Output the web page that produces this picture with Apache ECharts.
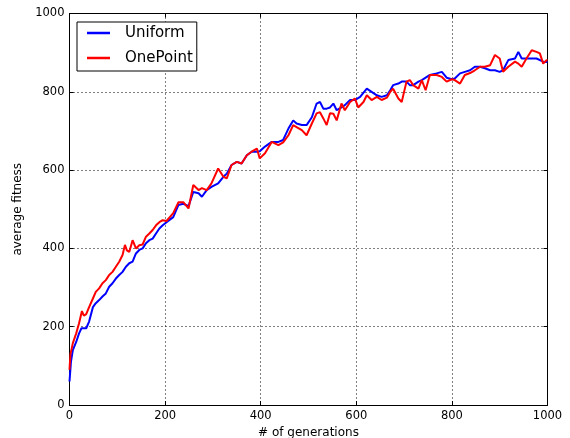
<!DOCTYPE html>
<html>
<head>
<meta charset="utf-8">
<script src="https://cdn.jsdelivr.net/npm/echarts@6/dist/echarts.min.js"></script>
<style>
  html, body { margin: 0; padding: 0; background: #fff; }
  #chart { width: 570px; height: 438px; }
</style>
</head>
<body>
<div id="chart"></div>
<script>
// Average fitness per generation for two crossover operators
const uniformGen = [0, 3, 7, 14, 20, 25, 35, 41, 49, 55, 62, 69, 76, 83, 90, 97, 104, 111, 118, 125, 132, 139, 146, 153, 160, 167, 174, 181, 188, 195, 203, 217, 228, 238, 249, 259, 270, 277, 287, 297, 311, 322, 329, 339, 350, 360, 371, 381, 392, 398, 409, 423, 437, 447, 458, 468, 475, 486, 496, 507, 517, 524, 531, 538, 545, 552, 559, 569, 576, 587, 597, 608, 622, 632, 643, 653, 664, 671, 677, 688, 695, 705, 712, 719, 730, 737, 754, 768, 779, 789, 800, 806, 817, 827, 838, 848, 859, 869, 880, 890, 900, 907, 918, 932, 939, 946, 956, 967, 977, 991, 1000];
const uniformFit = [60, 110, 140, 161, 183, 196, 196, 213, 250, 260, 268, 277, 285, 302, 311, 323, 332, 340, 353, 362, 366, 387, 396, 400, 413, 421, 425, 438, 451, 459, 467, 480, 511, 514, 508, 544, 541, 532, 549, 557, 566, 583, 591, 613, 621, 617, 638, 647, 647, 648, 660, 672, 672, 677, 706, 727, 719, 715, 715, 735, 770, 774, 757, 757, 760, 770, 753, 760, 766, 779, 779, 787, 808, 800, 791, 787, 791, 804, 817, 821, 826, 826, 817, 817, 826, 830, 843, 847, 851, 836, 832, 834, 847, 851, 855, 864, 864, 860, 855, 855, 851, 855, 881, 885, 902, 885, 885, 885, 885, 877, 876];

const onePointGen = [0, 2, 7, 14, 20, 26, 30, 35, 41, 49, 55, 62, 69, 76, 83, 90, 97, 104, 111, 116, 120, 125, 132, 139, 146, 153, 160, 167, 174, 181, 188, 195, 203, 217, 228, 238, 249, 259, 270, 277, 287, 297, 311, 322, 329, 339, 350, 360, 371, 381, 392, 398, 409, 423, 437, 447, 458, 468, 475, 486, 496, 507, 517, 524, 531, 538, 545, 552, 559, 569, 576, 587, 597, 604, 615, 622, 632, 643, 653, 664, 671, 677, 688, 695, 705, 712, 719, 730, 737, 745, 754, 768, 779, 789, 800, 806, 817, 827, 838, 848, 859, 869, 880, 890, 900, 907, 918, 932, 939, 946, 956, 967, 977, 984, 991, 998, 1000];
const onePointFit = [90, 130, 158, 183, 209, 240, 228, 232, 250, 272, 289, 298, 311, 319, 332, 340, 353, 366, 383, 409, 395, 391, 421, 400, 408, 410, 430, 438, 447, 459, 467, 472, 470, 490, 518, 518, 502, 562, 549, 554, 549, 566, 604, 583, 579, 613, 621, 617, 638, 647, 655, 630, 643, 672, 664, 671, 689, 715, 710, 702, 689, 719, 745, 748, 732, 715, 745, 744, 727, 770, 753, 774, 783, 760, 774, 791, 779, 787, 779, 785, 800, 808, 783, 774, 826, 830, 817, 808, 830, 804, 843, 843, 838, 826, 832, 830, 821, 843, 848, 855, 864, 864, 868, 894, 885, 851, 864, 877, 872, 864, 885, 906, 902, 898, 872, 881, 880];

const xTicks = [0, 200, 400, 600, 800, 1000];
const yTicks = [0, 200, 400, 600, 800, 1000];

const pairs = (xs, ys) => xs.map((x, i) => [x, ys[i]]);

const chart = echarts.init(document.getElementById('chart'), null, { renderer: 'canvas' });

const labelFont = { color: '#000', fontFamily: 'DejaVu Sans', fontSize: 11.5 };
const gridDots = { show: true, lineStyle: { color: '#000', width: 1, type: [1, 3] } };
const frameLine = { show: true, onZero: false, lineStyle: { color: '#000', width: 1 } };

chart.setOption({
  animation: false,
  backgroundColor: '#fff',
  grid: { left: 69.5, right: 22.5, top: 13.5, bottom: 33, containLabel: false, outerBoundsMode: 'none' },
  legend: {
    orient: 'vertical',
    left: 77,
    top: 22,
    data: ['Uniform', 'OnePoint'],
    icon: 'rect',
    itemWidth: 23,
    itemHeight: 2.5,
    itemGap: 9,
    padding: [3, 4, 5, 10],
    borderColor: '#000',
    borderWidth: 1,
    backgroundColor: '#fff',
    textStyle: { fontFamily: 'DejaVu Sans', fontSize: 15, color: '#000', lineHeight: 16, padding: [0, 0, 0, 10] }
  },
  xAxis: [
    {
      type: 'value', min: 0, max: 1000, interval: 200,
      name: '# of generations', nameLocation: 'middle', nameGap: 20,
      nameTextStyle: { fontFamily: 'DejaVu Sans', fontSize: 12, color: '#000' },
      axisLine: frameLine,
      axisTick: { show: true, inside: true, length: 4, lineStyle: { color: '#000' } },
      axisLabel: Object.assign({ margin: 5, formatter: v => xTicks.includes(v) ? String(v) : '' }, labelFont),
      splitLine: gridDots
    },
    {
      type: 'value', min: 0, max: 1000, interval: 200, position: 'top',
      axisLine: frameLine,
      axisTick: { show: true, inside: true, length: 4, lineStyle: { color: '#000' } },
      axisLabel: { show: false }, splitLine: { show: false }
    }
  ],
  yAxis: [
    {
      type: 'value', min: 0, max: 1000, interval: 200,
      name: 'average fitness', nameLocation: 'middle', nameGap: 38, nameRotate: 90,
      nameTextStyle: { fontFamily: 'DejaVu Sans', fontSize: 12, color: '#000' },
      axisLine: frameLine,
      axisTick: { show: true, inside: true, length: 4, lineStyle: { color: '#000' } },
      axisLabel: Object.assign({ margin: 5, formatter: v => yTicks.includes(v) ? String(v) : '' }, labelFont),
      splitLine: gridDots
    },
    {
      type: 'value', min: 0, max: 1000, interval: 200, position: 'right',
      axisLine: frameLine,
      axisTick: { show: true, inside: true, length: 4, lineStyle: { color: '#000' } },
      axisLabel: { show: false }, splitLine: { show: false }
    }
  ],
  series: [
    {
      name: 'Uniform', type: 'line', xAxisIndex: 0, yAxisIndex: 0,
      data: pairs(uniformGen, uniformFit),
      showSymbol: false, symbol: 'none',
      itemStyle: { color: '#0000ff' },
      lineStyle: { color: '#0000ff', width: 2 },
      z: 3
    },
    {
      name: 'OnePoint', type: 'line', xAxisIndex: 0, yAxisIndex: 0,
      data: pairs(onePointGen, onePointFit),
      showSymbol: false, symbol: 'none',
      itemStyle: { color: '#ff0000' },
      lineStyle: { color: '#ff0000', width: 2 },
      z: 4
    }
  ]
});
</script>
</body>
</html>
